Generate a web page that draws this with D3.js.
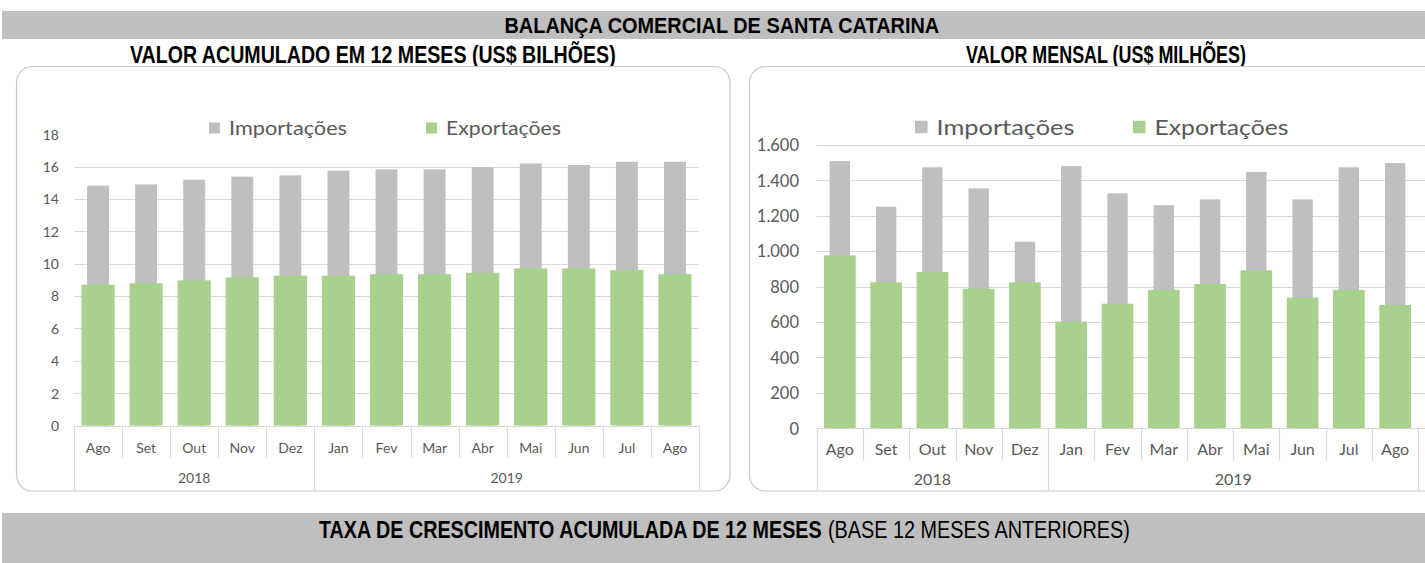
<!DOCTYPE html>
<html>
<head>
<meta charset="utf-8">
<script src="https://cdn.jsdelivr.net/npm/d3@7"></script>
<style>
  html, body { margin: 0; padding: 0; background: #fff; }
  svg { display: block; }
</style>
</head>
<body>
<svg id="chart" width="1425" height="563"></svg>
<script>
// Categories: Aug 2018 .. Aug 2019
const months = ["Ago", "Set", "Out", "Nov", "Dez", "Jan", "Fev", "Mar", "Abr", "Mai", "Jun", "Jul", "Ago"];
const yearLabels = ["2018", "2019"];
const yearSpans = [5, 8];

// 12-month accumulated values (US$ billions)
const accImports = [14.82, 14.90, 15.19, 15.38, 15.46, 15.75, 15.83, 15.83, 15.96, 16.20, 16.10, 16.30, 16.30];
const accExports = [8.70, 8.79, 8.97, 9.16, 9.26, 9.26, 9.35, 9.35, 9.44, 9.71, 9.71, 9.61, 9.35];
const accTicks = [0, 2, 4, 6, 8, 10, 12, 14, 16, 18];

// Monthly values (US$ millions)
const monImports = [1508, 1251, 1473, 1354, 1053, 1480, 1326, 1259, 1292, 1447, 1292, 1473, 1497];
const monExports = [976, 824, 882, 788, 824, 602, 703, 781, 814, 892, 737, 781, 696];
const monTicks = [0, 200, 400, 600, 800, 1000, 1200, 1400, 1600];

const seriesNames = ["Importações", "Exportações"];

const GRAY = "#bfbfbf";
const GREEN = "#a9d18e";
const GRID = "#d9d9d9";
const TXT = "#595959";
const FONT = "Lato, 'Open Sans', sans-serif";
const HFONT = "'Liberation Sans Narrow', 'Arial Narrow', 'Liberation Sans', Arial, sans-serif";

const svg = d3.select("#chart");
svg.append("rect").attr("width", 1425).attr("height", 563).attr("fill", "#fff");

// Condensed heading: draws text at (x, baseline) and squeezes it horizontally to `width`.
function heading(x, y, width, size, bold, str, anchor) {
  const g = svg.append("g");
  const t = g.append("text").attr("font-family", HFONT).attr("font-size", size)
    .attr("font-weight", bold ? "bold" : "normal").text(str);
  const natural = t.node().getComputedTextLength();
  const sx = width / natural;
  const left = anchor === "middle" ? x - width / 2 : x;
  g.attr("transform", `translate(${left},${y}) scale(${sx},1)`);
  return g;
}

// ---- header bands ----
svg.append("rect").attr("x", 2).attr("y", 11).attr("width", 1423).attr("height", 28).attr("fill", GRAY);
heading(722, 33, 435, 21.5, true, "BALANÇA COMERCIAL DE SANTA CATARINA", "middle");
heading(373, 63, 486, 23, true, "VALOR ACUMULADO EM 12 MESES (US$ BILHÕES)", "middle");
heading(1106, 63, 280, 23, true, "VALOR MENSAL (US$ MILHÕES)", "middle");

// footer band: bold title followed by a regular-weight qualifier
svg.append("rect").attr("x", 2).attr("y", 513).attr("width", 1423).attr("height", 50).attr("fill", GRAY);
heading(319, 538, 503, 23, true, "TAXA DE CRESCIMENTO ACUMULADA DE 12 MESES", "start");
heading(828, 538, 302, 23, false, "(BASE 12 MESES ANTERIORES)", "start");

// ---- panel drawing ----
function drawPanel(cfg) {
  const g = svg.append("g");

  // rounded frame
  g.append("rect")
    .attr("x", cfg.frame[0]).attr("y", cfg.frame[1])
    .attr("width", cfg.frame[2]).attr("height", cfg.frame[3])
    .attr("rx", 16).attr("ry", 16)
    .attr("fill", "#fff").attr("stroke", "#c8c8c8").attr("stroke-width", 1.2);

  const x = d3.scaleBand().domain(d3.range(months.length)).range(cfg.xRange);
  const y = d3.scaleLinear().domain([0, cfg.ticks[cfg.ticks.length - 1]]).range(cfg.yRange);

  // gridlines
  g.append("g").selectAll("line")
    .data(cfg.ticks.filter(t => cfg.gridTop || t < cfg.ticks[cfg.ticks.length - 1]))
    .join("line")
    .attr("x1", cfg.xRange[0]).attr("x2", cfg.gridRight)
    .attr("y1", d => Math.round(y(d)) + 0.5).attr("y2", d => Math.round(y(d)) + 0.5)
    .attr("stroke", GRID).attr("stroke-width", 1.2);

  // value axis labels
  const yAxis = d3.axisLeft(y).tickValues(cfg.ticks).tickSize(0).tickPadding(0)
    .tickFormat(cfg.fmt);
  const ya = g.append("g").attr("transform", `translate(${cfg.labelRight},0)`).call(yAxis);
  ya.select(".domain").remove();
  ya.selectAll("text").attr("font-family", FONT).attr("font-size", cfg.tickFont)
    .attr("fill", TXT).attr("dy", "0.35em");

  // bars: imports (narrow, behind), exports (wide, front)
  g.append("g").selectAll("rect").data(cfg.imports).join("rect")
    .attr("x", (d, i) => x(i) + (x.bandwidth() - x.bandwidth() * cfg.impW) / 2)
    .attr("width", x.bandwidth() * cfg.impW)
    .attr("y", d => y(d)).attr("height", d => y(0) - y(d))
    .attr("fill", GRAY);
  g.append("g").selectAll("rect").data(cfg.exports).join("rect")
    .attr("x", (d, i) => x(i) + (x.bandwidth() - x.bandwidth() * cfg.expW) / 2)
    .attr("width", x.bandwidth() * cfg.expW)
    .attr("y", d => y(d)).attr("height", d => y(0) - y(d))
    .attr("fill", GREEN);

  // multi-level category axis
  const y0 = y(0);
  const edges = d3.range(months.length + 1).map(i => i < months.length ? x(i) : cfg.xRange[1]);
  const yearEdges = [0];
  yearSpans.forEach(s => yearEdges.push(yearEdges[yearEdges.length - 1] + s));
  g.append("g").selectAll("line").data(edges.map((e, i) => ({e, i}))).join("line")
    .attr("x1", d => Math.round(d.e) + 0.5).attr("x2", d => Math.round(d.e) + 0.5)
    .attr("y1", y0)
    .attr("y2", d => yearEdges.includes(d.i) ? cfg.yearBottom : cfg.monthBottom)
    .attr("stroke", GRID).attr("stroke-width", 1.2);

  g.append("g").selectAll("text").data(months).join("text")
    .attr("x", (d, i) => x(i) + x.bandwidth() / 2).attr("y", cfg.monthY)
    .attr("text-anchor", "middle").attr("font-family", FONT).attr("font-size", cfg.catFont)
    .attr("fill", TXT).text(d => d);

  g.append("g").selectAll("text").data(yearLabels).join("text")
    .attr("x", (d, i) => (edges[yearEdges[i]] + edges[yearEdges[i + 1]]) / 2).attr("y", cfg.yearY)
    .attr("text-anchor", "middle").attr("font-family", FONT).attr("font-size", cfg.catFont)
    .attr("fill", TXT).text(d => d);

  // legend
  const colors = [GRAY, GREEN];
  const lg = g.append("g").selectAll("g").data(seriesNames).join("g")
    .attr("transform", (d, i) => `translate(${cfg.legendX[i]},${cfg.legendY})`);
  lg.append("rect").attr("x", 0).attr("y", -cfg.sq / 2).attr("width", cfg.sq).attr("height", cfg.sq)
    .attr("fill", (d, i) => colors[i]);
  lg.append("text").attr("x", cfg.sq + 9).attr("y", 0).attr("dy", "0.35em")
    .attr("font-family", FONT).attr("font-size", cfg.legendFont).attr("fill", TXT)
    .attr("textLength", (d, i) => cfg.legendLen[i]).attr("lengthAdjust", "spacingAndGlyphs")
    .text(d => d);
}

const fmtThousands = d3.formatLocale({decimal: ",", thousands: ".", grouping: [3], currency: ["", ""]}).format(",");

drawPanel({
  frame: [16.5, 66.5, 713.5, 424.5],
  xRange: [74, 699], yRange: [425.5, 425.5 - 18 * 16.18],
  gridRight: 699, gridTop: false,
  ticks: accTicks, fmt: d => d, labelRight: 59, tickFont: 14,
  imports: accImports, exports: accExports, impW: 0.455, expW: 0.69,
  monthBottom: 458, yearBottom: 490, monthY: 453, yearY: 483, catFont: 14,
  legendX: [209, 426], legendY: 128, sq: 11, legendFont: 20, legendLen: [118, 115]
});

drawPanel({
  frame: [749.5, 66.5, 720, 424.5],
  xRange: [816.7, 1418.3], yRange: [428.3, 428.3 - 1600 * 0.17719],
  gridRight: 1425, gridTop: true,
  ticks: monTicks, fmt: fmtThousands, labelRight: 799, tickFont: 16.5,
  imports: monImports, exports: monExports, impW: 0.44, expW: 0.685,
  monthBottom: 461, yearBottom: 490, monthY: 455, yearY: 485, catFont: 16,
  legendX: [915, 1133], legendY: 127, sq: 12.5, legendFont: 22, legendLen: [138, 134]
});
</script>
</body>
</html>
